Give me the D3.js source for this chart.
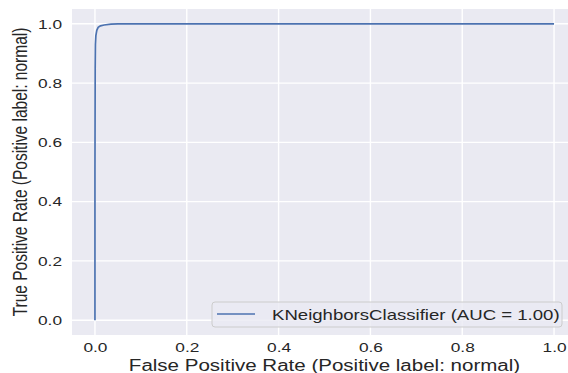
<!DOCTYPE html>
<html>
<head>
<meta charset="utf-8">
<script src="https://cdn.jsdelivr.net/npm/d3@7"></script>
<style>
  body { margin: 0; background: #fff; overflow: hidden; }
  svg { display: block; }
  svg text { font-family: "Liberation Sans", Arial, sans-serif; fill: #262626; }
</style>
</head>
<body>
<script>
// ROC curve values
var fpr = [0, 0, 0.0005, 0.001, 0.002, 0.004, 0.007, 0.012, 0.02, 0.035, 0.05, 1.0];
var tpr = [0, 0.5, 0.85, 0.93, 0.96, 0.978, 0.988, 0.993, 0.996, 0.999, 1.0, 1.0];
var ticks = [0.0, 0.2, 0.4, 0.6, 0.8, 1.0];
var seriesName = "KNeighborsClassifier (AUC = 1.00)";
var xLabel = "False Positive Rate (Positive label: normal)";
var yLabel = "True Positive Rate (Positive label: normal)";

var W = 568, H = 373;
var plotL = 72, plotR = 577, plotT = 9, plotB = 335;
var sx = 1.3; // the picture is stretched sideways

var svg = d3.select("body").append("svg")
    .attr("width", W)
    .attr("height", H);

var x = d3.scaleLinear().domain([-0.05, 1.05]).range([plotL, plotR]);
var y = d3.scaleLinear().domain([-0.05, 1.05]).range([plotB, plotT]);

// background
svg.append("rect")
    .attr("x", plotL).attr("y", plotT)
    .attr("width", plotR - plotL).attr("height", plotB - plotT)
    .attr("fill", "#eaeaf2");

// grid
var grid = svg.append("g").attr("class", "grid");
grid.selectAll("line.vx").data(ticks).enter().append("line")
    .attr("class", "vx")
    .attr("x1", function(d){ return x(d); }).attr("x2", function(d){ return x(d); })
    .attr("y1", plotT).attr("y2", plotB)
    .attr("stroke", "#fff").attr("stroke-width", 1.4);
grid.selectAll("line.hy").data(ticks).enter().append("line")
    .attr("class", "hy")
    .attr("y1", function(d){ return y(d); }).attr("y2", function(d){ return y(d); })
    .attr("x1", plotL).attr("x2", plotR)
    .attr("stroke", "#fff").attr("stroke-width", 1.4);

// axes
var xAxis = svg.append("g")
    .attr("transform", "translate(0," + plotB + ")")
    .call(d3.axisBottom(x).tickValues(ticks).tickFormat(d3.format(".1f")).tickSize(0).tickPadding(8));
var yAxis = svg.append("g")
    .attr("transform", "translate(" + plotL + ",0)")
    .call(d3.axisLeft(y).tickValues(ticks).tickFormat(d3.format(".1f")).tickSize(0).tickPadding(10));
[xAxis, yAxis].forEach(function(a){
    a.select(".domain").remove();
    a.selectAll("text")
        .style("font-size", "13.3px")
        .style("font-family", "'Liberation Sans', Arial, sans-serif")
        .attr("fill", "#2e2e2e")
        .attr("transform", "scale(" + sx + ",1)");
});
yAxis.selectAll("text").attr("x", -10 / sx);

svg.append("text")
    .attr("transform", "translate(" + ((x(0) + x(1)) / 2) + ",371) scale(" + sx + ",1)")
    .attr("text-anchor", "middle")
    .style("font-size", "15.8px")
    .text(xLabel);

svg.append("text")
    .attr("transform", "translate(27," + ((y(0) + y(1)) / 2) + ") scale(" + sx + ",1) rotate(-90)")
    .attr("text-anchor", "middle")
    .style("font-size", "15.5px")
    .text(yLabel);

// curve
var pts = fpr.map(function(d, i){ return [d, tpr[i]]; });
svg.append("path")
    .datum(pts)
    .attr("d", d3.line().x(function(d){ return x(d[0]); }).y(function(d){ return y(d[1]); }))
    .attr("fill", "none")
    .attr("stroke", "#4c72b0")
    .attr("stroke-width", 1.7);

// legend
var legend = svg.append("g").attr("transform", "translate(212,302)");
legend.append("rect")
    .attr("width", 350).attr("height", 25)
    .attr("rx", 3).attr("ry", 3)
    .attr("fill", "#eaeaf2").attr("fill-opacity", 0.8)
    .attr("stroke", "#cccccc").attr("stroke-width", 1);
legend.append("line")
    .attr("x1", 5).attr("x2", 43).attr("y1", 12).attr("y2", 12)
    .attr("stroke", "#4c72b0").attr("stroke-width", 1.7);
legend.append("text")
    .attr("transform", "translate(60,17.5) scale(" + sx + ",1)")
    .style("font-size", "14.3px")
    .text(seriesName);
</script>
</body>
</html>
